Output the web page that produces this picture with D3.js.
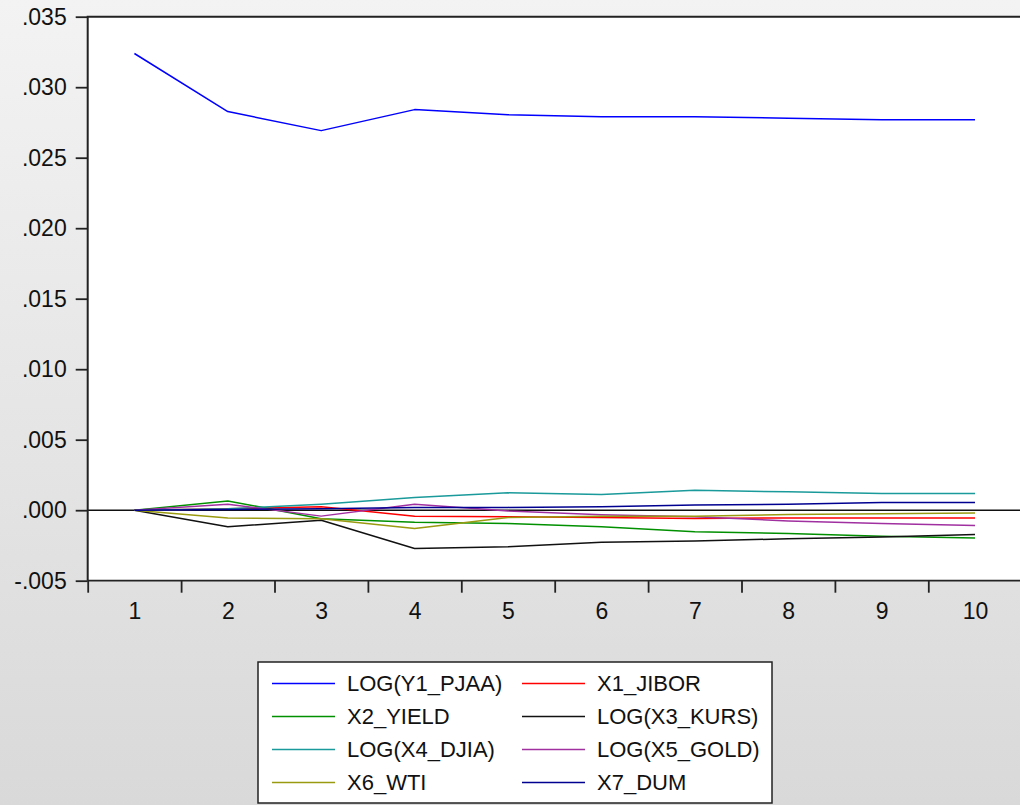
<!DOCTYPE html>
<html><head><meta charset="utf-8">
<script src="https://cdn.jsdelivr.net/npm/d3@7"></script>
<style>
html,body{margin:0;padding:0;overflow:hidden;}
svg{display:block;font-family:"Liberation Sans",Arial,sans-serif;}
</style></head>
<body>
<svg id="chart" width="1020" height="805"></svg>
<script>
const periods = [1,2,3,4,5,6,7,8,9,10];
const yTicks = [-0.005,0.000,0.005,0.010,0.015,0.020,0.025,0.030,0.035];
const seriesNames = ["LOG(Y1_PJAA)","X1_JIBOR","X2_YIELD","LOG(X3_KURS)","LOG(X4_DJIA)","LOG(X5_GOLD)","X6_WTI","X7_DUM"];
const seriesColors = ["#0000ff","#ff0000","#009000","#111111","#1a9a9a","#a030a0","#9a9a10","#000090"];
const y1_pjaa = [0.03239,0.02827,0.02692,0.02841,0.02805,0.02791,0.02790,0.02780,0.02770,0.02770];
const x1_jibor = [0,0.00010,0.00025,-0.00043,-0.00047,-0.00052,-0.00058,-0.00055,-0.00055,-0.00055];
const x2_yield = [0,0.00066,-0.00060,-0.00085,-0.00095,-0.00118,-0.00152,-0.00166,-0.00185,-0.00197];
const x3_kurs = [0,-0.00118,-0.00071,-0.00272,-0.00260,-0.00227,-0.00218,-0.00203,-0.00190,-0.00173];
const x4_djia = [0,0.00010,0.00043,0.00090,0.00123,0.00111,0.00142,0.00130,0.00118,0.00118];
const x5_gold = [0,0.00043,-0.00042,0.00043,-0.00005,-0.00033,-0.00047,-0.00076,-0.00095,-0.00109];
const x6_wti = [0,-0.00055,-0.00060,-0.00130,-0.00052,-0.00043,-0.00043,-0.00031,-0.00026,-0.00019];
const x7_dum = [0,0.00005,0.00010,0.00020,0.00020,0.00024,0.00036,0.00043,0.00055,0.00055];
const seriesValues = [y1_pjaa,x1_jibor,x2_yield,x3_kurs,x4_djia,x5_gold,x6_wti,x7_dum];

const svg = d3.select("#chart");
const W = 1020, H = 805;
const defs = svg.append("defs");
const grad = defs.append("linearGradient").attr("id","bg").attr("x1",0).attr("y1",0).attr("x2",0).attr("y2",1);
grad.append("stop").attr("offset","0%").attr("stop-color","#f3f3f3");
grad.append("stop").attr("offset","100%").attr("stop-color","#d9d9d9");
svg.append("rect").attr("width",W).attr("height",H).attr("fill","url(#bg)");

const L = 87.7, R = 1021.7, T = 16.7, B = 580.7;
const x = d3.scaleLinear().domain([0.5,10.5]).range([L,R]);
const y = d3.scaleLinear().domain([-0.005,0.035]).range([B,T]);

svg.append("rect").attr("x",L).attr("y",T).attr("width",W-L+5).attr("height",B-T).attr("fill","#fff");

// zero line
svg.append("line").attr("x1",L).attr("x2",W).attr("y1",y(0)).attr("y2",y(0))
  .attr("stroke","#111").attr("stroke-width",1.5);

const line = d3.line().x((d,i)=>x(periods[i])).y(d=>y(d));
const order = [1,2,3,4,5,6,7,0];
order.forEach(k=>{
  svg.append("path").datum(seriesValues[k]).attr("d",line)
    .attr("fill","none").attr("stroke",seriesColors[k]).attr("stroke-width",1.5)
    .attr("stroke-linejoin","round");
});

// frame
svg.append("path").attr("d",`M${L},${B}V${T}H${W+5}`).attr("fill","none").attr("stroke","#222").attr("stroke-width",2);
svg.append("line").attr("x1",L).attr("x2",W).attr("y1",B).attr("y2",B).attr("stroke","#222").attr("stroke-width",1.8);

const fmt = d => { const s = d3.format(".3f")(Math.abs(d) < 1e-12 ? 0 : Math.abs(d)); return (d < -1e-12 ? "-" : "") + s.replace(/^0\./,"."); };
const yAxis = svg.append("g").attr("transform",`translate(${L},0)`)
  .call(d3.axisLeft(y).tickValues(yTicks).tickFormat(fmt).tickSize(12).tickPadding(9));
yAxis.select(".domain").remove();
yAxis.selectAll(".tick line").attr("stroke","#222").attr("stroke-width",1.8);
yAxis.selectAll(".tick text").attr("font-size",23).attr("fill","#111").attr("font-family","Liberation Sans, Arial, sans-serif");

const bounds = d3.range(0,11).map(i=>i+0.5);
const xTickG = svg.append("g").attr("transform",`translate(0,${B})`)
  .call(d3.axisBottom(x).tickValues(bounds).tickFormat("").tickSize(12));
xTickG.select(".domain").remove();
xTickG.selectAll(".tick line").attr("stroke","#222").attr("stroke-width",1.8);
const xLab = svg.append("g").attr("transform",`translate(0,${B})`)
  .call(d3.axisBottom(x).tickValues(periods).tickFormat(d3.format("d")).tickSize(0).tickPadding(22));
xLab.select(".domain").remove();
xLab.selectAll(".tick text").attr("font-size",23).attr("fill","#111").attr("font-family","Liberation Sans, Arial, sans-serif");

// legend
const lg = svg.append("g");
lg.append("rect").attr("x",258).attr("y",662).attr("width",514).attr("height",141)
  .attr("fill","#fff").attr("stroke","#222").attr("stroke-width",1.5);
const rowY = [683.5,716.5,749.5,782.5];
seriesNames.forEach((n,i)=>{
  const col = i%2, row = Math.floor(i/2);
  const sx = col===0 ? 272 : 522;
  const tx = col===0 ? 347 : 597;
  lg.append("line").attr("x1",sx).attr("x2",sx+63).attr("y1",rowY[row]).attr("y2",rowY[row])
    .attr("stroke",seriesColors[i]).attr("stroke-width",1.5);
  lg.append("text").attr("x",tx).attr("y",rowY[row]).attr("dy","0.36em")
    .attr("font-size",22).attr("fill","#111").text(n);
});
</script>
</body></html>
